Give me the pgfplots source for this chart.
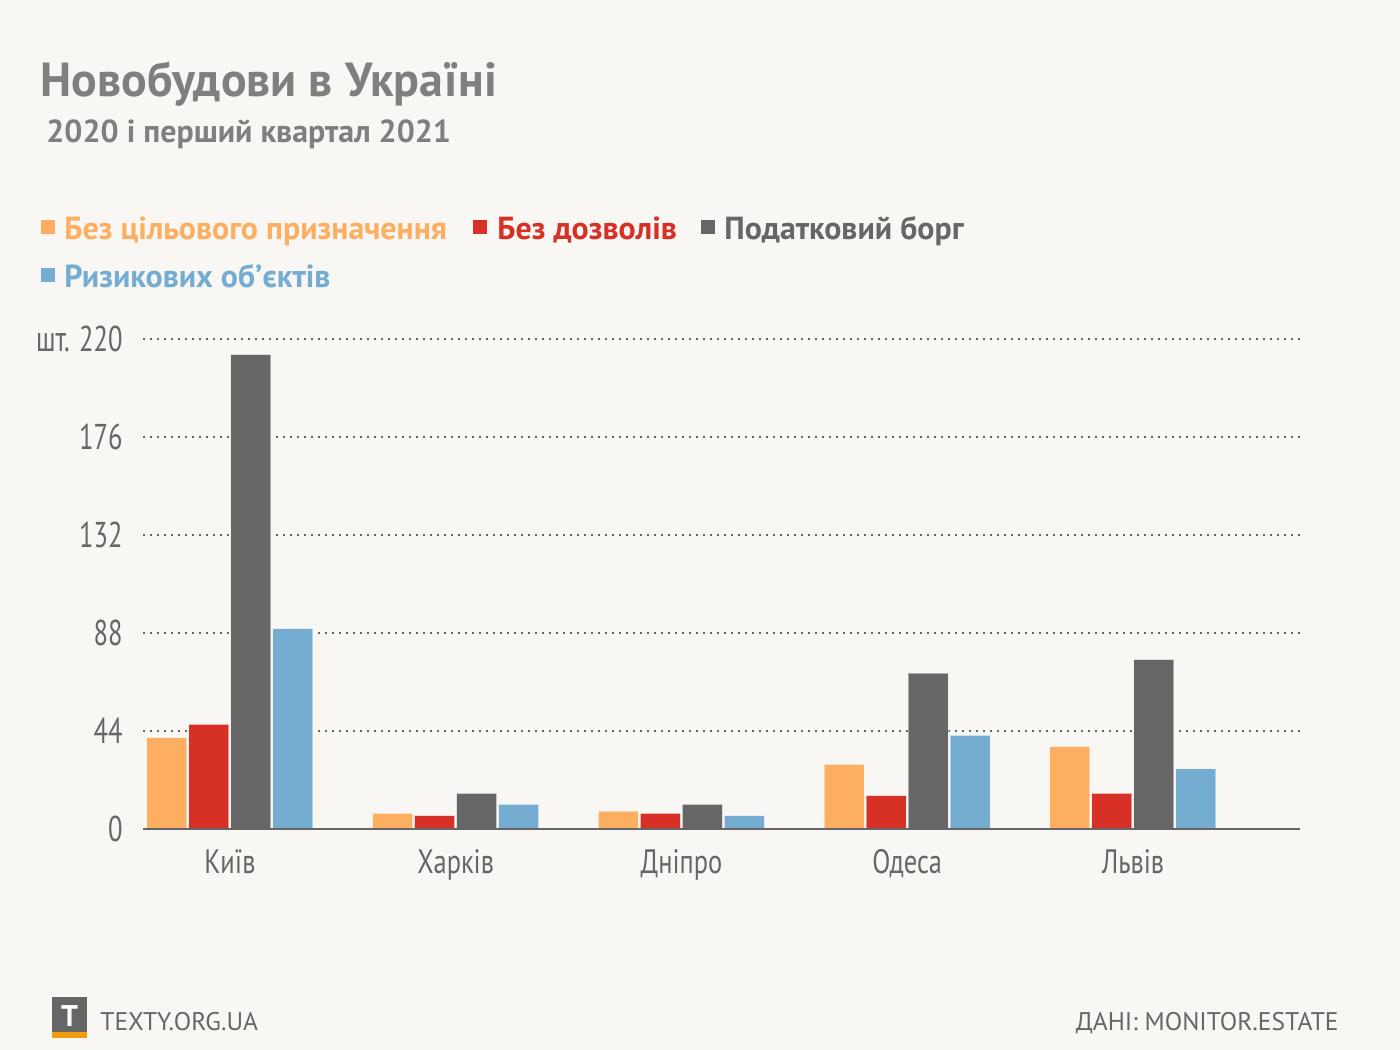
\documentclass[border=0pt]{standalone}
\usepackage{pgfplots}
\pgfplotsset{compat=1.18}
\usepackage{fontspec}
\setmainfont{PT Sans}
\newfontfamily\condfont[FakeStretch=0.74]{PT Sans}
\newfontfamily\catfont[FakeStretch=0.78]{PT Sans}
\definecolor{bg}{HTML}{F8F7F3}
\definecolor{corange}{HTML}{FDAE61}
\definecolor{cred}{HTML}{D73027}
\definecolor{cgray}{HTML}{666666}
\definecolor{cblue}{HTML}{74ADD1}
\definecolor{ctitle}{HTML}{7F7F7F}
\definecolor{ctext}{HTML}{666666}
\definecolor{clogo}{HTML}{F39C12}
\begin{document}
\begin{tikzpicture}[x=1bp,y=1bp]
\fill[bg] (0,0) rectangle (700,525);
% title
\node[anchor=base west, inner sep=0, font=\bfseries\fontsize{24}{28}\selectfont, text=ctitle] at (20,476.5) {Новобудови в Україні};
\node[anchor=base west, inner sep=0, font=\bfseries\fontsize{16}{19}\selectfont, text=ctitle] at (23,453.5) {2020 і перший квартал 2021};
% legend
\fill[corange] (20.5,408) rectangle +(7,7);
\node[anchor=base west, inner sep=0, font=\bfseries\fontsize{16}{19}\selectfont, text=corange] at (32,405.3) {Без цільового призначення};
\fill[cred] (236.5,408) rectangle +(7,7);
\node[anchor=base west, inner sep=0, font=\bfseries\fontsize{16}{19}\selectfont, text=cred] at (248.5,405.3) {Без дозволів};
\fill[cgray] (350.5,408) rectangle +(7,7);
\node[anchor=base west, inner sep=0, font=\bfseries\fontsize{16}{19}\selectfont, text=cgray] at (362,405.3) {Податковий борг};
\fill[cblue] (20.5,383.8) rectangle +(7,7);
\node[anchor=base west, inner sep=0, font=\bfseries\fontsize{16}{19}\selectfont, text=cblue] at (32,381.3) {Ризикових об\char"02BC єктів};
% axis
\begin{axis}[
  at={(71.5bp,110.5bp)}, anchor=south west,
  scale only axis, width=578.5bp, height=245bp,
  xmin=-0.385, xmax=4.74, ymin=0, ymax=220,
  axis line style={draw=none},
  major tick length=0pt,
  ytick={0,44,88,132,176,220},
  yticklabels={0,44,88,132,176,шт. 220},
  xtick={0,1,2,3,4},
  xticklabels={Київ,Харків,Дніпро,Одеса,Львів},
  ymajorgrids,
  grid style={cgray, line width=0.85bp, dash pattern=on 0.85bp off 2.65bp},
  yticklabel style={anchor=east, inner sep=0pt, xshift=-10bp, text=ctext, font=\condfont\fontsize{18}{20}\selectfont},
  xticklabel style={anchor=base, inner sep=0pt, yshift=-22.5bp, text=ctext, font=\catfont\fontsize{17}{20}\selectfont},
  clip=false,
]
\addplot[ybar, bar width=0.177, bar shift=-0.279, fill=corange, draw=white, draw opacity=0.45, line width=0.5bp] coordinates {(0,41) (1,7) (2,8) (3,29) (4,37)};
\addplot[ybar, bar width=0.177, bar shift=-0.093, fill=cred, draw=white, draw opacity=0.45, line width=0.5bp] coordinates {(0,47) (1,6) (2,7) (3,15) (4,16)};
\addplot[ybar, bar width=0.177, bar shift=0.093, fill=cgray, draw=white, draw opacity=0.45, line width=0.5bp] coordinates {(0,213) (1,16) (2,11) (3,70) (4,76)};
\addplot[ybar, bar width=0.177, bar shift=0.279, fill=cblue, draw=white, draw opacity=0.45, line width=0.5bp] coordinates {(0,90) (1,11) (2,6) (3,42) (4,27)};
\draw[cgray, line width=1bp] (axis cs:-0.385,0) -- (axis cs:4.74,0);
\end{axis}
% footer
\fill[cgray] (26,9) rectangle (43.5,26.5);
\fill[clogo] (26,6) rectangle (43.5,9);
\node[anchor=base, inner sep=0, text=white, font=\bfseries\fontsize{15}{18}\selectfont] at (34.75,11.5) {T};
\node[anchor=base west, inner sep=0, text=ctext, font=\fontsize{12.8}{15}\selectfont] at (50,9.5) {TEXTY.ORG.UA};
\node[anchor=base east, inner sep=0, text=ctext, font=\fontsize{12.8}{15}\selectfont] at (669.5,9.5) {ДАНІ: MONITOR.ESTATE};
\end{tikzpicture}
\end{document}
